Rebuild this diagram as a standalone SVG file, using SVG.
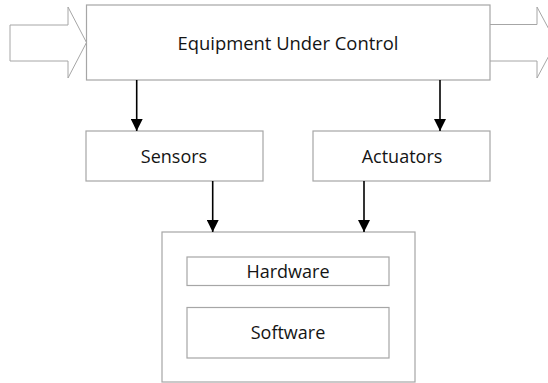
<svg xmlns="http://www.w3.org/2000/svg" width="548" height="383" viewBox="0 0 548 383">
  <style>
    .box { fill: #ffffff; stroke: #a6a6a6; stroke-width: 1.2; }
    .flow { fill: #ffffff; stroke: #a6a6a6; stroke-width: 1; }
    .label { font-family: "Open Sans", "Liberation Sans", sans-serif; font-size: 18px; fill: #141414; text-anchor: middle; }
    .title { font-size: 18.5px; }
    .link { stroke: #000000; stroke-width: 1.6; fill: none; marker-end: url(#head); }
  </style>
  <defs>
    <marker id="head" markerWidth="12" markerHeight="12" refX="12" refY="6" orient="auto" markerUnits="userSpaceOnUse">
      <path d="M0,0 L12,6 L0,12 Z" fill="#000000"/>
    </marker>
  </defs>
  <rect width="548" height="383" fill="#ffffff"/>

  <!-- input and output flows -->
  <g id="flow-in">
    <path class="flow" d="M10,25 H68 V7 L86.5,42.5 L68,78 V61 H10 Z"/>
  </g>
  <g id="flow-out">
    <path class="flow" d="M490,24.5 H537 V7 L556,42.5 L537,78 V61 H490"/>
  </g>

  <g id="equipment">
    <rect class="box" x="86.5" y="5" width="403.5" height="75"/>
    <text class="label title" x="288" y="50" textLength="221" lengthAdjust="spacingAndGlyphs">Equipment Under Control</text>
  </g>

  <g id="sensors">
    <rect class="box" x="86" y="131" width="177" height="50"/>
    <text class="label" x="174" y="163">Sensors</text>
  </g>

  <g id="actuators">
    <rect class="box" x="313" y="131" width="177" height="50"/>
    <text class="label" x="402" y="163">Actuators</text>
  </g>

  <g id="controller">
    <rect class="box" x="162" y="232" width="253" height="150"/>
    <g id="hardware">
      <rect class="box" x="187" y="257" width="202" height="28.5"/>
      <text class="label" x="288" y="278">Hardware</text>
    </g>
    <g id="software">
      <rect class="box" x="187" y="307.5" width="202" height="50.5"/>
      <text class="label" x="288" y="339">Software</text>
    </g>
  </g>

  <g id="connectors">
    <line class="link" x1="136.7" y1="80" x2="136.7" y2="131"/>
    <line class="link" x1="440" y1="80" x2="440" y2="131"/>
    <line class="link" x1="212.7" y1="181" x2="212.7" y2="232"/>
    <line class="link" x1="364" y1="181" x2="364" y2="232"/>
  </g>
</svg>
